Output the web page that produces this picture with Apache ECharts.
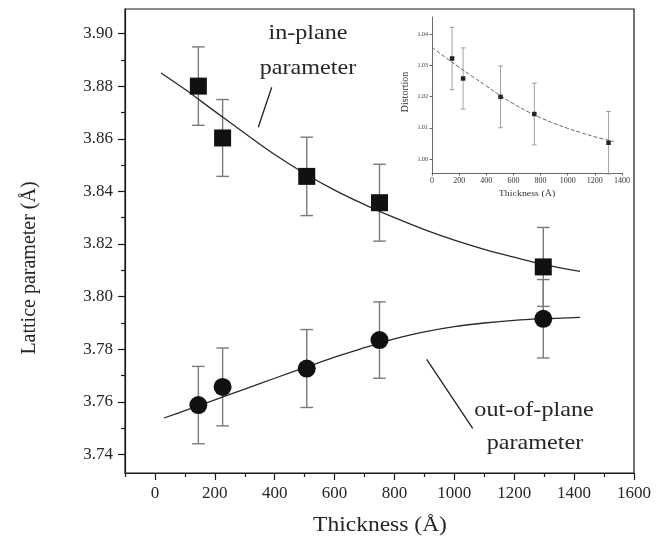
<!DOCTYPE html>
<html>
<head>
<meta charset="utf-8">
<script src="https://cdn.jsdelivr.net/npm/echarts@6/dist/echarts.min.js"></script>
<style>
html,body{margin:0;padding:0;background:#fff;}
#chart{width:657px;height:547px;}
</style>
</head>
<body>
<div id="chart"></div>
<script>
// ---- data ----
const thickness = [145, 226, 507, 750, 1297];
const inPlane = [3.8800, 3.8603, 3.8457, 3.8357, 3.8113];
const inPlaneErr = [0.0149, 0.0146, 0.0149, 0.0146, 0.0150];
const outPlane = [3.7588, 3.7657, 3.7727, 3.7835, 3.7916];
const outPlaneErr = [0.0147, 0.0148, 0.0148, 0.0145, 0.0149];

const inFitX = [20, 100, 200, 300, 400, 500, 600, 700, 800, 900, 1000, 1100, 1200, 1300, 1420];
const inFitY = [3.8850, 3.8788, 3.8704, 3.8621, 3.8540, 3.8468, 3.8405, 3.8350, 3.8300, 3.8255, 3.8215, 3.8180, 3.8150, 3.8122, 3.8096];
const outFitX = [30, 100, 200, 300, 400, 500, 600, 700, 800, 900, 1000, 1100, 1200, 1300, 1420];
const outFitY = [3.7539, 3.7567, 3.7608, 3.7649, 3.7690, 3.7730, 3.7770, 3.7806, 3.7840, 3.7866, 3.7886, 3.7900, 3.7910, 3.7916, 3.7921];

const xTicks = [0, 200, 400, 600, 800, 1000, 1200, 1400, 1600];
const xMinorTicks = [-100, 100, 300, 500, 700, 900, 1100, 1300, 1500];
const yTicks = [3.74, 3.76, 3.78, 3.80, 3.82, 3.84, 3.86, 3.88, 3.90];
const yMinorTicks = [3.75, 3.77, 3.79, 3.81, 3.83, 3.85, 3.87, 3.89];

// inset
const insetThickness = [148, 229, 505, 754, 1301];
const distortion = [1.0322, 1.0258, 1.0199, 1.0144, 1.0052];
const distortionErr = [0.0100, 0.0098, 0.0099, 0.0099, 0.0100];
const insetFitX = [0, 100, 200, 300, 400, 500, 600, 700, 800, 900, 1000, 1100, 1200, 1340];
const insetFitY = [1.0358, 1.0325, 1.0294, 1.0264, 1.0234, 1.0204, 1.0177, 1.0153, 1.0132, 1.0114, 1.0098, 1.0084, 1.0071, 1.0055];
const insetXTicks = [0, 200, 400, 600, 800, 1000, 1200, 1400];
const insetYTicks = [1.00, 1.01, 1.02, 1.03, 1.04];

// ---- chart ----
const FONT = "'Liberation Serif','Times New Roman',serif";
const TXT = '#262626';
const chart = echarts.init(document.getElementById('chart'), null, {renderer: 'canvas'});

function zip(xs, ys) { return xs.map((x, i) => [x, ys[i]]); }
function errData(xs, ys, es) { return xs.map((x, i) => [x, ys[i] - es[i], ys[i] + es[i]]); }
function errRenderer(halfCap, color, lw) {
  return function (params, api) {
    const x = api.value(0), lo = api.value(1), hi = api.value(2);
    const a = api.coord([x, lo]), b = api.coord([x, hi]);
    const st = {stroke: color, lineWidth: lw};
    return {type: 'group', children: [
      {type: 'line', shape: {x1: a[0], y1: a[1], x2: b[0], y2: b[1]}, style: st},
      {type: 'line', shape: {x1: a[0] - halfCap, y1: a[1], x2: a[0] + halfCap, y2: a[1]}, style: st},
      {type: 'line', shape: {x1: b[0] - halfCap, y1: b[1], x2: b[0] + halfCap, y2: b[1]}, style: st}
    ]};
  };
}
const plain = v => String(Math.round(v));

const mainXMin = -100, mainXMax = 1600, mainYMin = 3.733, mainYMax = 3.9093;

const option = {
  animation: false,
  backgroundColor: '#ffffff',
  grid: [
    {left: 125, top: 9, right: 23, bottom: 74, show: true, borderColor: '#1a1a1a', borderWidth: 1.2, backgroundColor: 'transparent'},
    {left: 432, top: 17, width: 190, height: 156, show: false}
  ],
  xAxis: [
    {type: 'value', gridIndex: 0, min: mainXMin, max: mainXMax, position: 'bottom',
     axisLine: {show: true, onZero: false, lineStyle: {color: '#1a1a1a', width: 1.2}},
     axisTick: {show: true, customValues: xTicks, length: 7, inside: false, lineStyle: {color: '#1a1a1a', width: 1.2}},
     axisLabel: {show: true, customValues: xTicks, margin: 12, fontFamily: FONT, fontSize: 17, color: TXT, formatter: plain},
     splitLine: {show: false}},
    {type: 'value', gridIndex: 0, min: mainXMin, max: mainXMax, position: 'bottom', offset: 0,
     axisLine: {show: false, onZero: false},
     axisTick: {show: true, customValues: xMinorTicks, length: 4, inside: false, lineStyle: {color: '#1a1a1a', width: 1.2}},
     axisLabel: {show: false}, splitLine: {show: false}},
    {type: 'value', gridIndex: 1, min: 0, max: 1400, position: 'bottom',
     axisLine: {show: true, onZero: false, lineStyle: {color: '#444', width: 0.8}},
     axisTick: {show: true, customValues: insetXTicks, length: 2.5, lineStyle: {color: '#444', width: 0.8}},
     axisLabel: {show: true, customValues: insetXTicks, margin: 4, fontFamily: FONT, fontSize: 8, color: '#333', formatter: plain},
     splitLine: {show: false}}
  ],
  yAxis: [
    {type: 'value', gridIndex: 0, min: mainYMin, max: mainYMax, position: 'left',
     axisLine: {show: true, onZero: false, lineStyle: {color: '#1a1a1a', width: 1.2}},
     axisTick: {show: true, customValues: yTicks, length: 7, inside: false, lineStyle: {color: '#1a1a1a', width: 1.2}},
     axisLabel: {show: true, customValues: yTicks, margin: 12, fontFamily: FONT, fontSize: 17, color: TXT,
                 formatter: v => Number(v).toFixed(2)},
     splitLine: {show: false}},
    {type: 'value', gridIndex: 0, min: mainYMin, max: mainYMax, position: 'left', offset: 0,
     axisLine: {show: false, onZero: false},
     axisTick: {show: true, customValues: yMinorTicks, length: 4, inside: false, lineStyle: {color: '#1a1a1a', width: 1.2}},
     axisLabel: {show: false}, splitLine: {show: false}},
    {type: 'value', gridIndex: 1, min: 0.9955, max: 1.0455, position: 'left',
     axisLine: {show: true, onZero: false, lineStyle: {color: '#444', width: 0.8}},
     axisTick: {show: true, customValues: insetYTicks, length: 2.5, lineStyle: {color: '#444', width: 0.8}},
     axisLabel: {show: true, customValues: insetYTicks, margin: 4, fontFamily: FONT, fontSize: 6, color: '#333',
                 formatter: v => Number(v).toFixed(2)},
     splitLine: {show: false}}
  ],
  series: [
    {type: 'custom', xAxisIndex: 0, yAxisIndex: 0, z: 2, clip: false,
     renderItem: errRenderer(6.3, '#7a7a7a', 1.4),
     encode: {x: 0, y: [1, 2]},
     data: errData(thickness, inPlane, inPlaneErr)},
    {type: 'custom', xAxisIndex: 0, yAxisIndex: 0, z: 2, clip: false,
     renderItem: errRenderer(6.3, '#7a7a7a', 1.4),
     encode: {x: 0, y: [1, 2]},
     data: errData(thickness, outPlane, outPlaneErr)},
    {type: 'line', xAxisIndex: 0, yAxisIndex: 0, z: 3, smooth: 0.4, showSymbol: false,
     lineStyle: {color: '#2a2a2a', width: 1.3}, data: zip(inFitX, inFitY)},
    {type: 'line', xAxisIndex: 0, yAxisIndex: 0, z: 3, smooth: 0.4, showSymbol: false,
     lineStyle: {color: '#2a2a2a', width: 1.3}, data: zip(outFitX, outFitY)},
    {type: 'scatter', xAxisIndex: 0, yAxisIndex: 0, z: 4, symbol: 'rect', symbolSize: 17,
     itemStyle: {color: '#111111', opacity: 1}, data: zip(thickness, inPlane)},
    {type: 'scatter', xAxisIndex: 0, yAxisIndex: 0, z: 4, symbol: 'circle', symbolSize: 18,
     itemStyle: {color: '#111111', opacity: 1}, data: zip(thickness, outPlane)},
    // inset
    {type: 'custom', xAxisIndex: 2, yAxisIndex: 2, z: 2,
     renderItem: errRenderer(2.5, '#8a8a8a', 0.8),
     encode: {x: 0, y: [1, 2]},
     data: errData(insetThickness, distortion, distortionErr)},
    {type: 'line', xAxisIndex: 2, yAxisIndex: 2, z: 3, smooth: 0.4, showSymbol: false,
     lineStyle: {color: '#555', width: 0.9, type: [4, 2]}, data: zip(insetFitX, insetFitY)},
    {type: 'scatter', xAxisIndex: 2, yAxisIndex: 2, z: 4, symbol: 'rect', symbolSize: 4.5,
     itemStyle: {color: '#222', opacity: 1}, data: zip(insetThickness, distortion)}
  ],
  graphic: [
    {type: 'text', x: 30, y: 268, rotation: Math.PI / 2,
     style: {text: 'Lattice parameter (Å)', font: '20px ' + FONT, fill: TXT, align: 'center', verticalAlign: 'middle'}},
    {type: 'text', x: 380, y: 525, scaleX: 1.12,
     style: {text: 'Thickness (Å)', font: '21px ' + FONT, fill: TXT, align: 'center', verticalAlign: 'middle'}},
    {type: 'text', x: 308, y: 33, scaleX: 1.15,
     style: {text: 'in-plane', font: '21px ' + FONT, fill: TXT, align: 'center', verticalAlign: 'middle'}},
    {type: 'text', x: 308, y: 68, scaleX: 1.15,
     style: {text: 'parameter', font: '21px ' + FONT, fill: TXT, align: 'center', verticalAlign: 'middle'}},
    {type: 'line', shape: {x1: 271.7, y1: 87.3, x2: 258.3, y2: 127.3}, style: {stroke: '#222', lineWidth: 1.3}},
    {type: 'text', x: 534, y: 410, scaleX: 1.15,
     style: {text: 'out-of-plane', font: '21px ' + FONT, fill: TXT, align: 'center', verticalAlign: 'middle'}},
    {type: 'text', x: 535, y: 443, scaleX: 1.15,
     style: {text: 'parameter', font: '21px ' + FONT, fill: TXT, align: 'center', verticalAlign: 'middle'}},
    {type: 'line', shape: {x1: 426.7, y1: 359.3, x2: 472.7, y2: 428.3}, style: {stroke: '#222', lineWidth: 1.3}},
    {type: 'text', x: 405, y: 92, rotation: Math.PI / 2,
     style: {text: 'Distortion', font: '10px ' + FONT, fill: '#333', align: 'center', verticalAlign: 'middle'}},
    {type: 'text', x: 527, y: 194, scaleX: 1.1,
     style: {text: 'Thickness (Å)', font: '9px ' + FONT, fill: '#333', align: 'center', verticalAlign: 'middle'}}
  ]
};
chart.setOption(option);
</script>
</body>
</html>
